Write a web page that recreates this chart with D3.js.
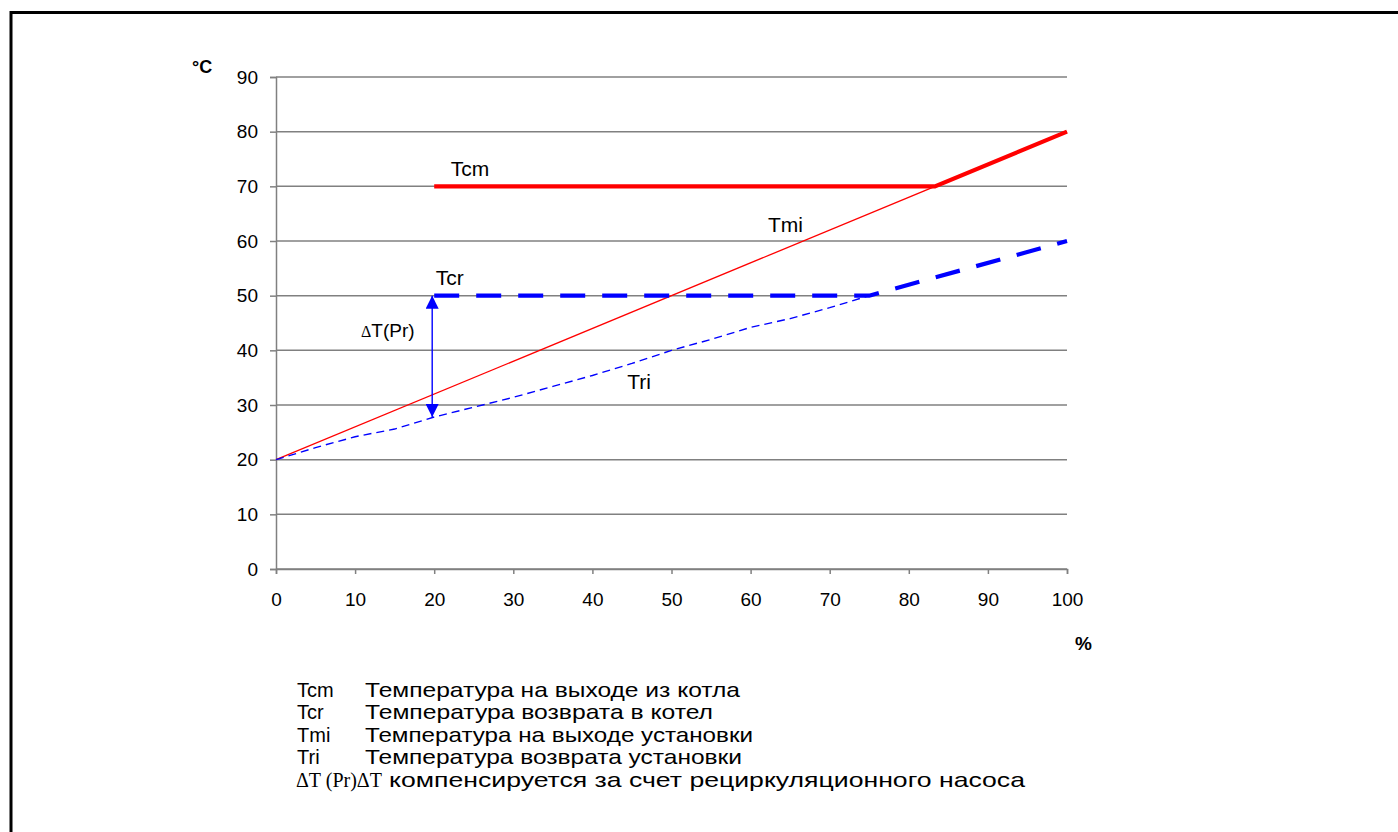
<!DOCTYPE html>
<html>
<head>
<meta charset="utf-8">
<script src="https://cdn.jsdelivr.net/npm/d3@7"></script>
<style>
  body { margin: 0; background: #fff; }
  svg { display: block; font-family: Arial, "Liberation Sans", sans-serif; }
</style>
</head>
<body>
<div id="chart"></div>
<script>
// Данные графика
const xTicks = [0, 10, 20, 30, 40, 50, 60, 70, 80, 90, 100];
const yTicks = [0, 10, 20, 30, 40, 50, 60, 70, 80, 90];

const tcmX = [20, 83.3, 100];
const tcmY = [70, 70, 80];

const tmiX = [0, 100];
const tmiY = [20, 80];

const tcrX = [20, 75, 100];
const tcrY = [50, 50, 60];

const triX = [0, 5, 10, 15, 20, 25, 30, 35, 40, 45, 50, 55, 60, 65, 70, 75];
const triY = [20, 22.2, 24.2, 25.6, 27.8, 29.6, 31.4, 33.4, 35.4, 37.6, 40, 42, 44.2, 45.8, 47.8, 50];

const legendKeys = ["Tcm", "Tcr", "Tmi", "Tri"];
const legendTexts = [
    "Температура на выходе из котла",
    "Температура возврата в котел",
    "Температура на выходе установки",
    "Температура возврата установки"
];
const noteText = "компенсируется за счет рециркуляционного насоса";

const width = 1398;
const height = 832;

const svg = d3.select("#chart")
    .append("svg")
    .attr("width", width)
    .attr("height", height);

// Рамка
svg.append("rect")
    .attr("x", 11).attr("y", 12.5)
    .attr("width", 1500).attr("height", 1000)
    .attr("fill", "none")
    .attr("stroke", "#000")
    .attr("stroke-width", 3);

const x = d3.scaleLinear().domain([0, 100]).range([276, 1067]);
const y = d3.scaleLinear().domain([0, 90]).range([569, 77]);

// Сетка
svg.append("g")
    .selectAll("line")
    .data(yTicks)
    .enter().append("line")
    .attr("x1", x(0)).attr("x2", x(100))
    .attr("y1", d => y(d)).attr("y2", d => y(d))
    .attr("stroke", "#808080")
    .attr("stroke-width", 1.5);

// Оси
const yAxis = svg.append("g")
    .attr("transform", `translate(${x(0)},0)`)
    .call(d3.axisLeft(y).tickValues(yTicks).tickSize(6).tickPadding(12));
const xAxis = svg.append("g")
    .attr("transform", `translate(0,${y(0)})`)
    .call(d3.axisBottom(x).tickValues(xTicks).tickSize(5).tickPadding(19));

[yAxis, xAxis].forEach(g => {
    g.select(".domain").attr("stroke", "#808080").attr("stroke-width", 1.5);
    g.selectAll(".tick line").attr("stroke", "#808080").attr("stroke-width", 1.5);
    g.selectAll(".tick text")
        .attr("font-size", 19)
        .attr("font-family", "Arial, 'Liberation Sans', sans-serif")
        .attr("fill", "#000");
});

const line = d3.line().x(d => x(d[0])).y(d => y(d[1]));
const zipXY = (xs, ys) => xs.map((v, i) => [v, ys[i]]);

// Tmi
svg.append("path")
    .attr("d", line(zipXY(tmiX, tmiY)))
    .attr("fill", "none").attr("stroke", "#ff0000").attr("stroke-width", 1.3);

// Tri
svg.append("path")
    .attr("d", line(zipXY(triX, triY)))
    .attr("fill", "none").attr("stroke", "#0000ff").attr("stroke-width", 1.4)
    .attr("stroke-dasharray", "8,5");

// Tcm
svg.append("path")
    .attr("d", line(zipXY(tcmX, tcmY)))
    .attr("fill", "none").attr("stroke", "#ff0000").attr("stroke-width", 4.2);

// Tcr
svg.append("path")
    .attr("d", line(zipXY(tcrX, tcrY)))
    .attr("fill", "none").attr("stroke", "#0000ff").attr("stroke-width", 4.2)
    .attr("stroke-dasharray", "25,17");

// Стрелка ΔT
const defs = svg.append("defs");
defs.append("marker")
    .attr("id", "arr")
    .attr("viewBox", "0 0 10 10")
    .attr("refX", 10).attr("refY", 5)
    .attr("markerWidth", 13).attr("markerHeight", 13)
    .attr("markerUnits", "userSpaceOnUse")
    .attr("orient", "auto-start-reverse")
    .append("path")
    .attr("d", "M0,0 L10,5 L0,10 Z")
    .attr("fill", "#0000ff");

svg.append("line")
    .attr("x1", x(20) - 2).attr("x2", x(20) - 2)
    .attr("y1", y(50)).attr("y2", y(triY[4]))
    .attr("stroke", "#0000ff").attr("stroke-width", 1.4)
    .attr("marker-start", "url(#arr)")
    .attr("marker-end", "url(#arr)");

// Подписи серий
const labels = [
    { t: "Tcm", px: 22.1, py: 71.9 },
    { t: "Tmi", px: 62.2, py: 61.7 },
    { t: "Tcr", px: 20.2, py: 51.9 },
    { t: "Tri", px: 44.4, py: 32.9 }
];
svg.append("g")
    .selectAll("text")
    .data(labels)
    .enter().append("text")
    .attr("x", d => x(d.px))
    .attr("y", d => y(d.py))
    .attr("font-size", 21)
    .attr("fill", "#000")
    .text(d => d.t);

svg.append("text")
    .attr("x", 361).attr("y", 337)
    .attr("font-size", 19)
    .attr("fill", "#000")
    .html('<tspan font-family="\'Liberation Serif\', serif" font-size="16">Δ</tspan>T(Pr)');

// Подписи осей
svg.append("text")
    .attr("x", 192).attr("y", 73)
    .attr("font-size", 18).attr("font-weight", "bold")
    .text("°C");
svg.append("text")
    .attr("x", 1075).attr("y", 650)
    .attr("font-size", 19).attr("font-weight", "bold")
    .text("%");

// Легенда
const legendWidths = [375, 348, 388, 377];
const legend = svg.append("g");
legendKeys.forEach((k, i) => {
    const ly = 697 + i * 22.4;
    legend.append("text").attr("x", 297).attr("y", ly).attr("font-size", 20).text(k);
    legend.append("text").attr("x", 365).attr("y", ly).attr("font-size", 21)
        .attr("textLength", legendWidths[i]).attr("lengthAdjust", "spacingAndGlyphs")
        .text(legendTexts[i]);
});
legend.append("text")
    .attr("x", 296).attr("y", 787)
    .attr("font-size", 20)
    .attr("font-family", "'Liberation Serif', 'Times New Roman', serif")
    .text("ΔT (Pr)ΔT");
legend.append("text")
    .attr("x", 389).attr("y", 787)
    .attr("font-size", 21)
    .attr("textLength", 636).attr("lengthAdjust", "spacingAndGlyphs")
    .text(noteText);
</script>
</body>
</html>
